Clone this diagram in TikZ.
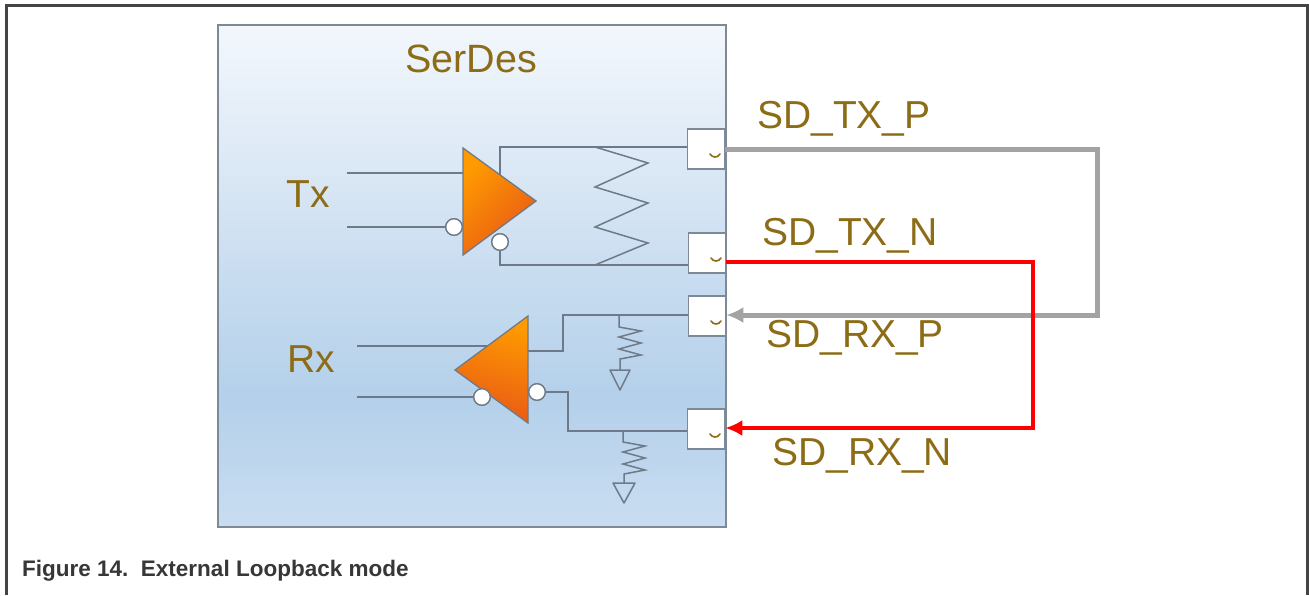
\documentclass[tikz,border=0pt]{standalone}
\usepackage{fontspec}
\setmainfont{Liberation Sans}
\usetikzlibrary{arrows.meta,calc}
\definecolor{olivetxt}{RGB}{140,108,22}
\definecolor{wire}{RGB}{110,122,135}
\definecolor{boxedge}{RGB}{125,137,150}
\definecolor{framecol}{RGB}{68,68,68}
\definecolor{loopgray}{RGB}{163,163,163}
\definecolor{loopred}{RGB}{255,0,0}
\definecolor{captioncol}{RGB}{55,55,55}
\definecolor{sdtop}{RGB}{243,247,252}
\definecolor{sdmid}{RGB}{180,208,234}
\definecolor{sdbot}{RGB}{201,221,241}
\definecolor{orA}{RGB}{255,155,0}
\definecolor{orB}{RGB}{232,88,22}
\pgfdeclareverticalshading{serdesshade}{100bp}{color(0bp)=(sdbot); color(25bp)=(sdbot); color(38bp)=(sdmid); color(75bp)=(sdtop); color(100bp)=(sdtop)}
\newcommand{\padmark}[1]{\draw[olivetxt, line width=1.6pt, line cap=round] ($(#1.center)+(4,5)$) .. controls ($(#1.center)+(6,9)$) and ($(#1.center)+(12,9)$) .. ($(#1.center)+(14,5)$);}
\begin{document}
\begin{tikzpicture}[x=1pt,y=-1pt,
  lbl/.style={font=\fontsize{39.5}{44}\selectfont, text=olivetxt, inner sep=0, anchor=base west},
  pinlbl/.style={lbl, font=\fontsize{39}{44}\selectfont},
  wireline/.style={draw=wire, line width=1.5pt},
  bubble/.style={circle, draw=wire, line width=1.3pt, fill=white, minimum size=16.5pt, inner sep=0},
  padbox/.style={draw=boxedge, line width=1.5pt, fill=white, minimum width=37pt, minimum height=40pt, inner sep=0},
  loopline/.style={-{Latex[length=17pt,width=16pt]}}
]
\useasboundingbox (0,0) rectangle (1309,595);
\fill[white] (0,0) rectangle (1309,595);
% outer frame
\draw[framecol, line width=3pt] (6.5,595) -- (6.5,5.5) -- (1307.5,5.5) -- (1307.5,595);
% SerDes block
\node[draw=boxedge, line width=2pt, shading=serdesshade, minimum width=508pt, minimum height=502pt, anchor=north west, inner sep=0] (serdes) at (217,24) {};
\node[lbl] (title) at (405,72) {SerDes};
\node[lbl, font=\fontsize{39}{44}\selectfont] (txlbl) at (286,207) {Tx};
\node[lbl, font=\fontsize{39}{44}\selectfont] (rxlbl) at (287,372) {Rx};

% pads
\node[padbox] (txp) at (706,149) {};
\node[padbox] (txn) at (707,253) {};
\node[padbox] (rxp) at (707,316) {};
\node[padbox] (rxn) at (706,429) {};
\padmark{txp}
\padmark{txn}
\padmark{rxp}
\padmark{rxn}

% Tx buffer
\coordinate (txA) at (463,148);
\coordinate (txB) at (463,255);
\coordinate (txC) at (536,201);
\coordinate (txin1) at (347,173);
\coordinate (txin2) at (347,227);
\node[bubble] (txinb) at (454,227) {};
\node[bubble] (txoutb) at (500,242) {};
\draw[wireline] (txin1) -- (txA |- txin1);
\draw[wireline] (txin2) -- (txinb.west);
\draw[wireline] (500,175) -- (500,147) -- ([yshift=2pt]txp.west);
\draw[wireline] (txoutb.south) -- (500,265) -- ([yshift=-12pt]txn.west);
\draw[wireline] (595,147) -- (648,163) -- (595,187) -- (648,203) -- (595,227) -- (648,243) -- (595,265);
\path[draw=wire, line width=1.3pt, top color=orA, bottom color=orB, shading angle=45] (txA) -- (txC) -- (txB) -- cycle;
\node[bubble] at (txinb) {};
\node[bubble] at (txoutb) {};

% Rx buffer
\coordinate (rxA) at (455,370);
\coordinate (rxB) at (528,316);
\coordinate (rxC) at (528,423);
\coordinate (rxin1) at (357,346);
\coordinate (rxin2) at (357,397);
\node[bubble] (rxinb) at (482,397) {};
\node[bubble] (rxoutb) at (537,392) {};
\draw[wireline] (rxin1) -- (488,346);
\draw[wireline] (rxin2) -- (rxinb.west);
\draw[wireline] (528,351) -- (563,351) -- (563,315) -- ([yshift=1pt]rxp.west);
\draw[wireline] (rxoutb.east) -- (568,392) -- (568,431) -- ([yshift=-2pt]rxn.west);
\path[draw=wire, line width=1.3pt, top color=orA, bottom color=orB, shading angle=-15] (rxA) -- (rxB) -- (rxC) -- cycle;
\node[bubble] at (rxinb) {};
\node[bubble] at (rxoutb) {};

% termination resistors
\draw[wireline] (619,315) -- (619,327) -- (641,331) -- (619,337) -- (641,343) -- (619,349) -- (641,355) -- (620,359) -- (620,370);
\draw[wireline, line join=round] (610,370) -- (630,370) -- (620,390) -- cycle;
\draw[wireline] (623,431) -- (623,442) -- (645,446) -- (623,452) -- (645,458) -- (623,464) -- (645,470) -- (624,474) -- (624,483);
\draw[wireline, line join=round] (613,483) -- (635,483) -- (624,503) -- cycle;

% pin labels
\node[pinlbl] (ltxp) at (757,128) {SD\_TX\_P};
\node[pinlbl] (ltxn) at (762,245) {SD\_TX\_N};
\node[pinlbl] (lrxp) at (766,347) {SD\_RX\_P};
\node[pinlbl] (lrxn) at (772,465) {SD\_RX\_N};

% external loopback connections
\coordinate (g1) at (1097,149);
\coordinate (g2) at (1097,315);
\coordinate (r1) at (1033,262);
\coordinate (r2) at (1033,428);
\draw[loopline, loopgray, line width=5pt] (txp.east) -- (g1) -- (g2) -- ([yshift=1pt]rxp.east);
\draw[loopline, loopred, line width=4pt] ([yshift=-9pt]txn.east) -- (r1) -- (r2) -- ([yshift=1pt]rxn.east);

% caption
\node[font=\fontsize{22.5}{28}\selectfont\bfseries, text=captioncol, inner sep=0, anchor=base west] (caption) at (22,576) {Figure 14.\ \ External Loopback mode};
\end{tikzpicture}
\end{document}
